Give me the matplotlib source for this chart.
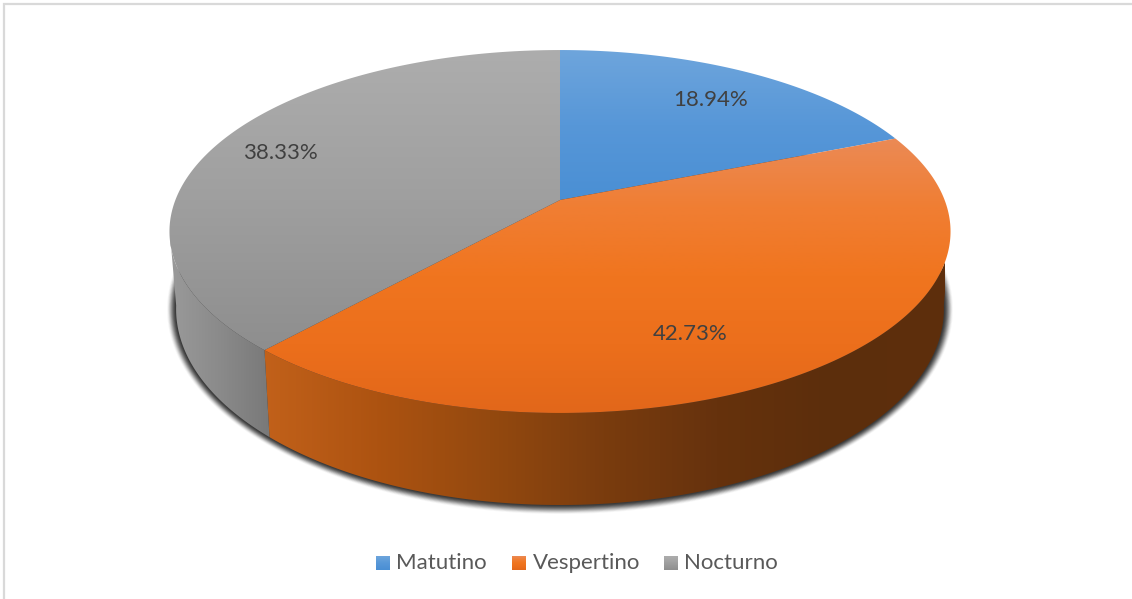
import numpy as np
import matplotlib
matplotlib.use('Agg')
import matplotlib.pyplot as plt
from matplotlib.path import Path
from matplotlib.patches import PathPatch, Rectangle

plt.rcParams['font.family'] = ['Lato', 'DejaVu Sans']

# data
categories = ['Matutino', 'Vespertino', 'Nocturno']
values = [18.94, 42.73, 38.33]
label_pos = [(711, 100), (690, 334), (280, 153)]

# colours, evenly spaced gradient stops
top_colors = [['#6EA5DC', '#5797D8', '#4A8FD4'],
              ['#EB8A55', '#F07E33', '#F0751F', '#EC6F1C', '#E2671A'],
              ['#ADADAD', '#9F9F9F', '#8E8E8E']]
side_colors = [None,
               ['#C2611A', '#AD5311', '#94490F', '#7A3C0E', '#66320D', '#5C2E0C', '#5E2F0D'],
               ['#9A9A9A', '#8A8A8A', '#787878']]
grad_spans = [(50, 200), (138, 413), (50, 350)]

# pie geometry in pixels, perspective ellipse
cx, cy = 560, 200
rx, ry = 384.6, 176
k = 0.1736
depth_scale, bottom_cy, bottom_y = 0.983, 275, 1.08


def top_pts(theta):
    X, Y = np.sin(theta), -np.cos(theta)
    d = 1 - k * Y
    return np.c_[cx + rx * X / d, cy + ry * Y / d]


def bottom_pts(theta):
    X, Y = np.sin(theta), -np.cos(theta)
    d = 1 - k * Y
    return np.c_[cx + depth_scale * rx * X / d, bottom_cy + bottom_y * ry * Y / d]


def gradient_fill(ax, pts, stops, extent, vertical=True):
    rgb = np.array([matplotlib.colors.to_rgb(c) for c in stops])
    t = np.linspace(0, 1, 256)
    pos = np.linspace(0, 1, len(stops))
    img = np.c_[[np.interp(t, pos, rgb[:, j]) for j in range(3)]].T
    img = img[:, None, :] if vertical else img[None, :, :]
    path = Path(np.vstack([pts, pts[:1]]), closed=True)
    patch = PathPatch(path, transform=ax.transData, facecolor='none', edgecolor='none')
    ax.add_patch(patch)
    im = ax.imshow(img, extent=extent, aspect='auto', interpolation='bilinear', zorder=3)
    im.set_clip_path(patch)
    return im


fig = plt.figure(figsize=(11.32, 5.99), dpi=100)
ax = fig.add_axes([0, 0, 1, 1])
ax.axis('off')

# chart border
ax.add_patch(Rectangle((3.5, 3.5), 1140, 620, facecolor='white', edgecolor='#D9D9D9', linewidth=1.6))

# soft shadow under the pie
th = np.linspace(0, 2 * np.pi, 400)
base = bottom_pts(th)
mid = np.array([560, 295])
for grow, al in zip(np.linspace(9, 1, 10), np.linspace(0.04, 0.32, 10)):
    v = base - mid
    n = np.hypot(v[:, 0], v[:, 1])
    shadow = mid + v * (1 + grow / n)[:, None]
    ax.fill(shadow[:, 0], shadow[:, 1], color='#202020', alpha=al, linewidth=0, zorder=2)

# slice angles from values
fracs = np.array(values) / sum(values)
ends = np.cumsum(fracs) * 2 * np.pi
starts = np.r_[0, ends[:-1]]

# rim
vis_a, vis_b = np.radians(99), np.radians(261)
for i in range(3):
    a, b = max(starts[i], vis_a), min(ends[i], vis_b)
    if b <= a or side_colors[i] is None:
        continue
    t = np.linspace(a, b, 200)
    rim = np.vstack([top_pts(t), bottom_pts(t)[::-1]])
    ext = (262, 945, 599, 0) if i == 1 else (170, 272, 599, 0)
    gradient_fill(ax, rim, side_colors[i], ext, vertical=False)

# top surface
for i in range(3):
    t = np.linspace(starts[i], ends[i], 300)
    pts = np.vstack([[cx, cy], top_pts(t)])
    y0, y1 = grad_spans[i]
    gradient_fill(ax, pts, top_colors[i], (160, 960, y1, y0))

# data labels
for val, (lx, ly) in zip(values, label_pos):
    ax.text(lx, ly, '%.2f%%' % val, ha='center', va='center', fontsize=16, color='#404040', zorder=5)

# legend
sq_x = [376, 512, 664]
txt_x = [396, 533, 684]
for i, name in enumerate(categories):
    gradient_fill(ax, np.array([[sq_x[i], 556], [sq_x[i] + 14, 556], [sq_x[i] + 14, 570], [sq_x[i], 570]]),
                  top_colors[i], (sq_x[i], sq_x[i] + 14, 570, 556))
    ax.text(txt_x[i], 563, name, ha='left', va='center', fontsize=16, color='#595959', zorder=5)

ax.set_xlim(0, 1132)
ax.set_ylim(599, 0)
fig.savefig('out.png', dpi=100, facecolor='white')
